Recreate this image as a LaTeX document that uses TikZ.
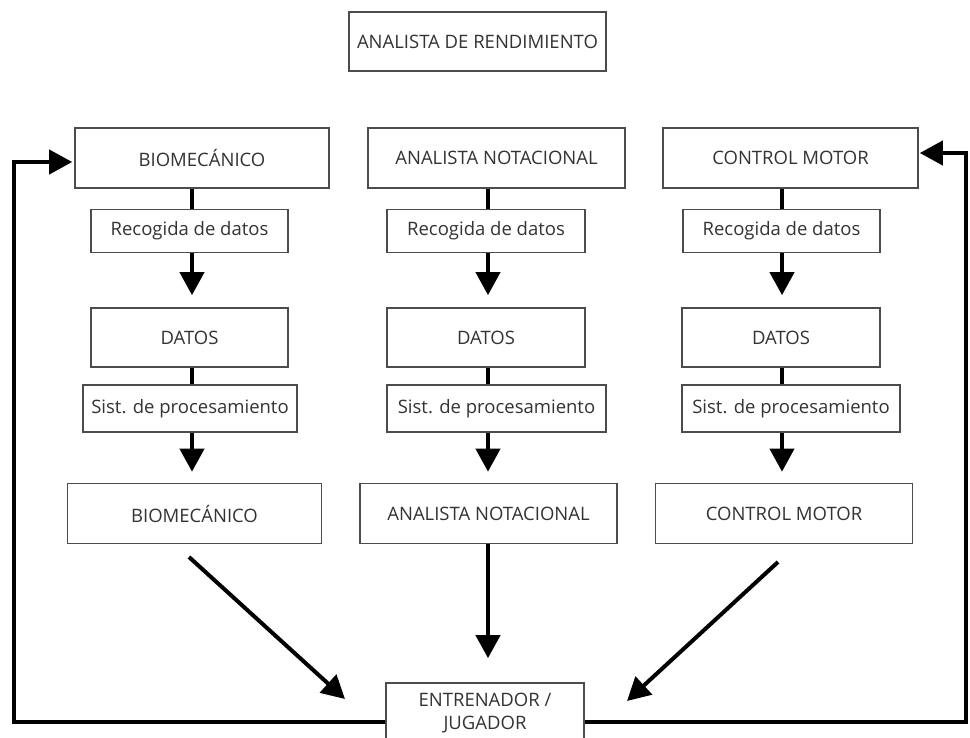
\documentclass[tikz,border=0pt]{standalone}
\usepackage{fontspec}
\setmainfont{Open Sans}
\usetikzlibrary{arrows.meta,calc}
\tikzset{
  box/.style={draw=black!70, line width=1.6pt, fill=white, inner sep=0pt,
    font=\fontsize{18.5}{23}\selectfont, text=black!80, align=center},
  arr/.style={line width=4pt, draw=black, -{Triangle[width=24pt,length=23pt]}},
  lin/.style={line width=4pt, draw=black},
}
\begin{document}
\begin{tikzpicture}[x=1pt,y=-1pt]
\useasboundingbox (0,0) rectangle (970,738);
% title
\node[box, minimum width=257pt, minimum height=59pt] (title) at (477.5,41.5) {ANALISTA DE RENDIMIENTO};
% row 1
\node[box, minimum width=254pt, minimum height=60pt] (b1) at (202,158) {BIOMECÁNICO};
\node[box, minimum width=257pt, minimum height=60pt] (m1) at (496.5,158) {ANALISTA NOTACIONAL};
\node[box, minimum width=255pt, minimum height=60pt] (c1) at (790.5,158) {CONTROL MOTOR};
% row 2
\node[box, minimum width=197pt, minimum height=43pt] (b2) at (189.5,231) {Recogida de datos};
\node[box, minimum width=198pt, minimum height=43pt] (m2) at (486,231) {Recogida de datos};
\node[box, minimum width=197pt, minimum height=43pt] (c2) at (781.5,231) {Recogida de datos};
% row 3
\node[box, minimum width=197pt, minimum height=59pt] (b3) at (189.5,337.5) {DATOS};
\node[box, minimum width=198pt, minimum height=59pt] (m3) at (486,337.5) {DATOS};
\node[box, minimum width=198pt, minimum height=59pt] (c3) at (781,337.5) {DATOS};
% row 4
\node[box, minimum width=214pt, minimum height=47pt] (b4) at (190,408.5) {Sist. de procesamiento};
\node[box, minimum width=219pt, minimum height=47pt] (m4) at (496.5,408.5) {Sist. de procesamiento};
\node[box, minimum width=218pt, minimum height=47pt] (c4) at (791,408.5) {Sist. de procesamiento};
% row 5
\node[box, minimum width=254pt, minimum height=60pt] (b5) at (194.5,513.5) {BIOMECÁNICO};
\node[box, minimum width=257pt, minimum height=60pt] (m5) at (488.5,513.5) {ANALISTA NOTACIONAL};
\node[box, minimum width=257pt, minimum height=60pt] (c5) at (784,513.5) {CONTROL MOTOR};
% coach / player
\node[box, minimum width=198pt, minimum height=60pt] (e) at (485,713) {ENTRENADOR /\\JUGADOR};

% column axes
\coordinate (colB) at (192,0);
\coordinate (colM) at (488,0);
\coordinate (colC) at (782,0);

% vertical flows
\foreach \p/\col in {b/colB, m/colM, c/colC}{
  \draw[lin] (\p1.south -| \col) -- (\p2.north -| \col);
  \draw[arr, shorten >=12pt] (\p2.south -| \col) -- (\p3.north -| \col);
  \draw[lin] (\p3.south -| \col) -- (\p4.north -| \col);
  \draw[arr, shorten >=11pt] (\p4.south -| \col) -- (\p5.north -| \col);
}

% to coach
\draw[arr, shorten >=24pt] (m5.south -| colM) -- (e.north -| colM);
\coordinate (dl1) at (189,557);
\coordinate (dl2) at (345,699);
\coordinate (dr1) at (778,562);
\coordinate (dr2) at (627,701);
\draw[arr] (dl1) -- (dl2);
\draw[arr] (dr1) -- (dr2);

% feedback loops
\coordinate (fbL) at (14,722);
\coordinate (fbLt) at (14,162);
\coordinate (fbR) at (966,722);
\coordinate (fbRt) at (966,153);
\draw[arr, shorten >=2pt] (e.west |- fbL) -- (fbL) -- (fbLt) -- (b1.west |- fbLt);
\draw[arr, shorten >=1pt] (e.east |- fbR) -- (fbR) -- (fbRt) -- (c1.east |- fbRt);
\end{tikzpicture}
\end{document}
